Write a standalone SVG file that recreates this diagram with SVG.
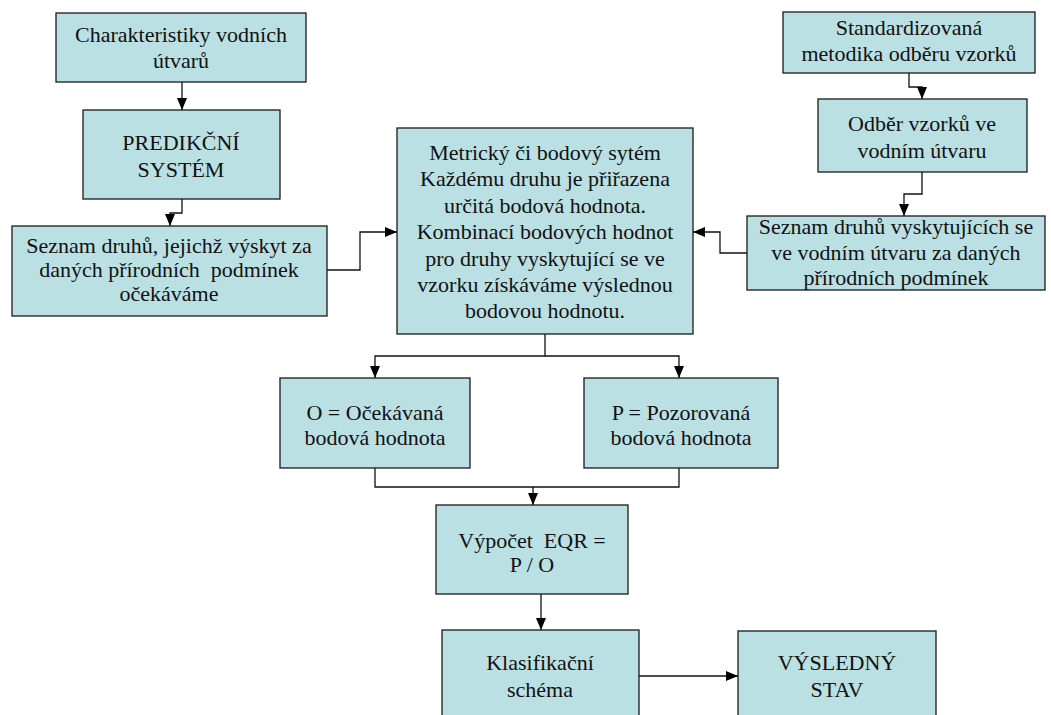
<svg xmlns="http://www.w3.org/2000/svg" width="1051" height="715" viewBox="0 0 1051 715">
<style>
.box{fill:#BBE0E3;stroke:#1a1a1a;stroke-width:1.3}
.t{font-family:'Liberation Serif','Times New Roman','DejaVu Serif',serif;font-size:22px;fill:#111;text-anchor:middle}
.c{fill:none;stroke:#111;stroke-width:1.3}
</style>
<defs>
<marker id="ah" viewBox="0 0 12 10" refX="12" refY="5" markerWidth="12" markerHeight="10" markerUnits="userSpaceOnUse" orient="auto">
<path d="M0,0 L12,5 L0,10 Z" fill="#000"/>
</marker>
</defs>
<rect width="1051" height="715" fill="#fff"/>
<g id="connectors">
<path class="c" d="M182,82 V110" marker-end="url(#ah)"/>
<path class="c" d="M182,199 V213 H170 V226" marker-end="url(#ah)"/>
<path class="c" d="M327,270 H360 V232 H397" marker-end="url(#ah)"/>
<path class="c" d="M909,73 V87 H922 V99" marker-end="url(#ah)"/>
<path class="c" d="M922,172 V194 H904 V216" marker-end="url(#ah)"/>
<path class="c" d="M747,253 H720 V232 H693" marker-end="url(#ah)"/>
<path class="c" d="M545,334 V356 H375 V378" marker-end="url(#ah)"/>
<path class="c" d="M545,356 H679 V378" marker-end="url(#ah)"/>
<path class="c" d="M375,468 V487 H679 V468"/>
<path class="c" d="M533,487 V505" marker-end="url(#ah)"/>
<path class="c" d="M541,594 V630" marker-end="url(#ah)"/>
<path class="c" d="M639,676 H738" marker-end="url(#ah)"/>
</g>
<g font-family="Liberation Serif, Times New Roman, DejaVu Serif, serif">
<g id="n1">
<rect class="box" x="56" y="13" width="250" height="69"/>
<text class="t" x="181" y="42">Charakteristiky vodních</text>
<text class="t" x="181" y="68">útvarů</text>
</g>
<g id="n2">
<rect class="box" x="83" y="110" width="197" height="89"/>
<text class="t" x="181" y="150">PREDIKČNÍ</text>
<text class="t" x="181" y="177">SYSTÉM</text>
</g>
<g id="n3">
<rect class="box" x="12" y="226" width="315" height="90"/>
<text class="t" x="169" y="253">Seznam druhů, jejichž výskyt za</text>
<text class="t" x="169" y="277" xml:space="preserve">daných přírodních  podmínek</text>
<text class="t" x="169" y="301">očekáváme</text>
</g>
<g id="n4">
<rect class="box" x="397" y="128" width="296" height="206"/>
<text class="t" x="545" y="160">Metrický či bodový sytém</text>
<text class="t" x="545" y="186">Každému druhu je přiřazena</text>
<text class="t" x="545" y="213">určitá bodová hodnota.</text>
<text class="t" x="545" y="239">Kombinací bodových hodnot</text>
<text class="t" x="545" y="266">pro druhy vyskytující se ve</text>
<text class="t" x="545" y="292">vzorku získáváme výslednou</text>
<text class="t" x="545" y="318">bodovou hodnotu.</text>
</g>
<g id="n5">
<rect class="box" x="783" y="12" width="252" height="61"/>
<text class="t" x="909" y="35">Standardizovaná</text>
<text class="t" x="909" y="61">metodika odběru vzorků</text>
</g>
<g id="n6">
<rect class="box" x="818" y="99" width="209" height="73"/>
<text class="t" x="922" y="131">Odběr vzorků ve</text>
<text class="t" x="922" y="158">vodním útvaru</text>
</g>
<g id="n7">
<rect class="box" x="747" y="216" width="298" height="74"/>
<text class="t" x="896" y="234">Seznam druhů vyskytujících se</text>
<text class="t" x="896" y="260">ve vodním útvaru za daných</text>
<text class="t" x="896" y="285">přírodních podmínek</text>
</g>
<g id="n8">
<rect class="box" x="280" y="378" width="190" height="90"/>
<text class="t" x="375" y="420">O = Očekávaná</text>
<text class="t" x="375" y="445">bodová hodnota</text>
</g>
<g id="n9">
<rect class="box" x="584" y="378" width="194" height="90"/>
<text class="t" x="681" y="420">P = Pozorovaná</text>
<text class="t" x="681" y="445">bodová hodnota</text>
</g>
<g id="n10">
<rect class="box" x="436" y="505" width="192" height="89"/>
<text class="t" x="532" y="548" xml:space="preserve">Výpočet  EQR =</text>
<text class="t" x="532" y="572">P / O</text>
</g>
<g id="n11">
<rect class="box" x="442" y="630" width="197" height="100"/>
<text class="t" x="540" y="670">Klasifikační</text>
<text class="t" x="540" y="697">schéma</text>
</g>
<g id="n12">
<rect class="box" x="738" y="631" width="198" height="100"/>
<text class="t" x="837" y="670">VÝSLEDNÝ</text>
<text class="t" x="837" y="697">STAV</text>
</g>
</g>
</svg>
